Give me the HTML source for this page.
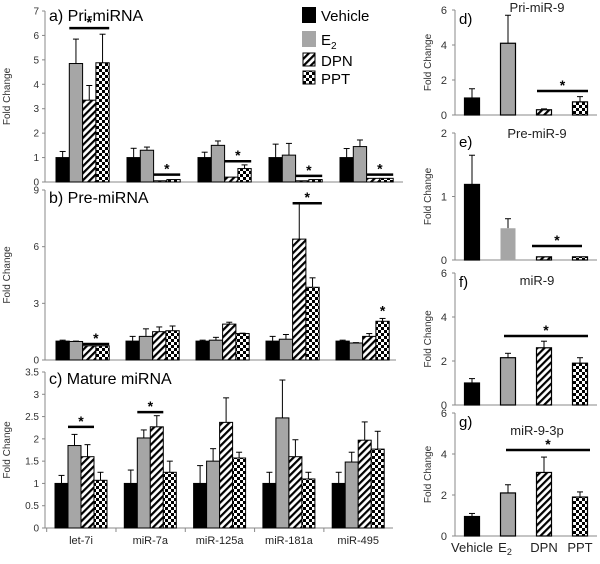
<!DOCTYPE html>
<html><head><meta charset="utf-8"><style>
html,body{margin:0;padding:0;background:#fff;}
svg{display:block;font-family:"Liberation Sans",Arial,sans-serif;}
</style></head><body>
<svg id="fig" width="600" height="564" viewBox="0 0 600 564">
<defs>
<pattern id="hatch" patternUnits="userSpaceOnUse" width="5" height="5" patternTransform="rotate(45)">
<rect width="5" height="5" fill="#fff"/><rect width="2.2" height="5" fill="#000"/>
</pattern>
<pattern id="check" patternUnits="userSpaceOnUse" width="6" height="6">
<rect width="6" height="6" fill="#fff"/><rect width="3" height="3" fill="#000"/><rect x="3" y="3" width="3" height="3" fill="#000"/>
</pattern>
</defs>
<g id="legend">
<rect x="302" y="7" width="14" height="16" fill="#000"/>
<text x="321" y="21" font-size="15">Vehicle</text>
<rect x="302" y="31" width="14" height="16" fill="#a6a6a6"/>
<text x="321" y="45" font-size="15">E<tspan font-size="10" dy="4">2</tspan></text>
<rect x="303" y="53" width="12" height="13" fill="url(#hatch)" stroke="#000"/>
<text x="321" y="66" font-size="15">DPN</text>
<rect x="303" y="71" width="12" height="13" fill="url(#check)" stroke="#000"/>
<text x="321" y="84" font-size="15">PPT</text>
</g>
</svg>
<script>
// ---- data ----
const groups = ["let-7i","miR-7a","miR-125a","miR-181a","miR-495"];
const treatments = ["Vehicle","E2","DPN","PPT"];
const priVals = [[1.0,4.85,3.35,4.88],[1.0,1.3,0.05,0.1],[1.0,1.5,0.2,0.55],[1.0,1.1,0.05,0.1],[1.0,1.45,0.15,0.15]];
const priErr  = [[1.25,5.85,3.95,6.05],[1.38,1.43,0,0],[1.22,1.68,0,0.7],[1.55,1.58,0,0],[1.37,1.72,0,0]];
const preVals = [[1.0,0.98,0.75,0.75],[1.0,1.25,1.5,1.55],[1.0,1.05,1.9,1.4],[1.0,1.1,6.4,3.85],[1.0,0.9,1.25,2.05]];
const preErr  = [[1.05,1.0,0,0],[1.25,1.65,1.75,1.8],[1.05,1.2,2.0,1.42],[1.25,1.35,8.3,4.35],[1.05,0.92,1.4,2.2]];
const matVals = [[1.0,1.85,1.6,1.07],[1.0,2.02,2.27,1.25],[1.0,1.5,2.37,1.57],[1.0,2.47,1.6,1.1],[1.0,1.48,1.97,1.77]];
const matErr  = [[1.18,2.1,1.87,1.25],[1.3,2.2,2.52,1.5],[1.4,1.78,2.92,1.7],[1.25,3.32,1.98,1.25],[1.25,1.7,2.38,2.17]];
const priTicks = [0,1,2,3,4,5,6,7];
const preTicks = [0,3,6,9];
const matTicks = [0,0.5,1,1.5,2,2.5,3,3.5];
const mir9Pri = [0.97,4.1,0.3,0.75];  const mir9PriErr = [1.5,5.7,0.35,1.05];
const mir9Pre = [1.19,0.5,0.05,0.05]; const mir9PreErr = [1.65,0.65,0,0];
const mir9Mat = [1.0,2.15,2.6,1.9];   const mir9MatErr = [1.2,2.35,2.9,2.15];
const mir93p  = [0.95,2.1,3.1,1.9];   const mir93pErr = [1.1,2.5,3.85,2.15];
const dTicks=[0,2,4,6], eTicks=[0,1,2], fTicks=[0,2,4,6], gTicks=[0,2,4,6];

const NS="http://www.w3.org/2000/svg";
const svg=document.getElementById('fig');
const fills=["#000","#a6a6a6","url(#hatch)","url(#check)"];
function mk(tag,attrs,parent){const e=document.createElementNS(NS,tag);for(const k in attrs)e.setAttribute(k,attrs[k]);(parent||svg).appendChild(e);return e;}

function leftPanel(cfg){
  const g=mk('g',{});
  
  
  const y=v=>cfg.y0-(v/cfg.max)*(cfg.y0-cfg.yTop);
  const ax=mk('line',{x1:cfg.ax,y1:cfg.yTop,x2:cfg.ax,y2:cfg.y0,stroke:'#888','stroke-width':1},g);
  
  
  const xa=mk('line',{x1:cfg.ax,y1:cfg.y0,x2:cfg.axEnd,y2:cfg.y0,stroke:'#888','stroke-width':1},g);
  
  
  cfg.ticks.forEach(t=>{
    mk('line',{x1:cfg.ax-3,y1:y(t),x2:cfg.ax,y2:y(t),stroke:'#888'},g);
    const tx=mk('text',{x:cfg.ax-6,y:y(t)+3.5,'font-size':10,'text-anchor':'end',fill:'#333'},g);
    tx.textContent=t;
    
    
  });
  const fc=mk('text',{x:0,y:0,'font-size':10,'text-anchor':'middle',fill:'#333',transform:`translate(${cfg.fcX},${(cfg.y0+cfg.yTop)/2}) rotate(-90)`},g);
  fc.textContent='Fold Change';
  
  
  const tt=mk('text',{x:cfg.ax+4,y:cfg.yTop+cfg.titleOff,'font-size':16},g);
  tt.textContent=cfg.title;
  
  
  cfg.vals.forEach((row,gi)=>{
    const gx=cfg.g0+gi*cfg.gs;
    row.forEach((v,ti)=>{
      const bx=gx+ti*cfg.bw;
      const e=cfg.err[gi][ti];
      if(e>v){
        const el=mk('line',{x1:bx+cfg.bw/2,y1:y(v),x2:bx+cfg.bw/2,y2:y(e),stroke:'#000','stroke-width':1},g);
        
        
        mk('line',{x1:bx+cfg.bw/2-3,y1:y(e),x2:bx+cfg.bw/2+3,y2:y(e),stroke:'#000'},g);
      }
      const r=mk('rect',{x:bx,y:y(v),width:cfg.bw,height:Math.max(0.5,cfg.y0-y(v)),fill:fills[ti],stroke:'#000','stroke-width':1},g);
      
      
    });
  });
  (cfg.stars||[]).forEach(s=>{
    const gx=cfg.g0+s[0]*cfg.gs;
    const x1=gx+s[1]*cfg.bw, x2=gx+s[2]*cfg.bw;
    if(s[4]){const ln=mk('line',{x1:x1,y1:y(s[3]),x2:x2,y2:y(s[3]),stroke:'#000','stroke-width':2.5},g);
      
      }
    const st=mk('text',{x:(x1+x2)/2,y:y(s[3])-1,'font-size':14,'text-anchor':'middle','font-weight':'bold'},g);
    st.textContent='*';
    
    
  });
  if(cfg.xlabels){
    groups.forEach((n,gi)=>{
      const t=mk('text',{x:cfg.g0+gi*cfg.gs+2*cfg.bw,y:cfg.y0+16,'font-size':11,'text-anchor':'middle',fill:'#222'},g);
      t.textContent=n;
      
      
      mk('line',{x1:cfg.g0+gi*cfg.gs-cfg.gs*0.12,y1:cfg.y0,x2:cfg.g0+gi*cfg.gs-cfg.gs*0.12,y2:cfg.y0+4,stroke:'#888'},g);
    });
  }
}
leftPanel({name:'panel-a-pri-mirna',title:'a) Pri-miRNA',titleOff:10,vals:priVals,err:priErr,ticks:priTicks,max:7,y0:182,yTop:11,ax:45,axEnd:403,fcX:10,g0:56,gs:71,bw:13.3,
  stars:[[0,1,4,6.3,1],[1,2,4,0.3,1],[2,2,4,0.85,1],[3,2,4,0.25,1],[4,2,4,0.3,1]]});
leftPanel({name:'panel-b-pre-mirna',title:'b) Pre-miRNA',titleOff:13,vals:preVals,err:preErr,ticks:preTicks,max:9,y0:360,yTop:190,ax:45,axEnd:396,fcX:10,g0:56,gs:70,bw:13.3,
  stars:[[0,2,4,0.85,1],[3,2,4.2,8.3,1],[4,3,4,2.3,0]]});
leftPanel({name:'panel-c-mature-mirna',title:'c) Mature miRNA',titleOff:12,vals:matVals,err:matErr,ticks:matTicks,max:3.5,y0:528,yTop:372,ax:45,axEnd:393,fcX:10,g0:55,gs:69.3,bw:13,xlabels:true,
  stars:[[0,1,3,2.27,1],[1,1,3,2.6,1]]});

function rightPanel(cfg){
  const g=mk('g',{});
  
  
  const y=v=>cfg.y0-(v/cfg.max)*(cfg.y0-cfg.yTop);
  const ax=mk('line',{x1:455,y1:cfg.yTop,x2:455,y2:cfg.y0,stroke:'#888'},g);
  
  
  const xa=mk('line',{x1:455,y1:cfg.y0,x2:597,y2:cfg.y0,stroke:'#888'},g);
  
  
  cfg.ticks.forEach(t=>{
    mk('line',{x1:452,y1:y(t),x2:455,y2:y(t),stroke:'#888'},g);
    const tx=mk('text',{x:447,y:y(t)+4,'font-size':11,'text-anchor':'end',fill:'#333'},g);
    tx.textContent=t;
    
    
  });
  const fc=mk('text',{x:0,y:0,'font-size':10,'text-anchor':'middle',fill:'#333',transform:`translate(431,${(cfg.y0+cfg.yTop)/2}) rotate(-90)`},g);
  fc.textContent='Fold Change';
  
  
  const lt=mk('text',{x:459,y:cfg.yTop+14,'font-size':15},g);
  lt.textContent=cfg.letter;
  
  
  const tt=mk('text',{x:537,y:cfg.titleY,'font-size':13,'text-anchor':'middle',fill:'#222'},g);
  tt.textContent=cfg.title;
  
  
  const cx=[472,508,544,580];
  cfg.vals.forEach((v,i)=>{
    const e=cfg.err[i];
    if(e>v){
      const el=mk('line',{x1:cx[i],y1:y(v),x2:cx[i],y2:y(e),stroke:'#000'},g);
      
      
      mk('line',{x1:cx[i]-3,y1:y(e),x2:cx[i]+3,y2:y(e),stroke:'#000'},g);
    }
    const r=mk('rect',{x:cx[i]-7.5,y:y(v),width:15,height:Math.max(0.5,cfg.y0-y(v)),fill:fills[i],stroke:i==1&&cfg.noE2Stroke?'none':'#000','stroke-width':1.2},g);
    
    
  });
  const ln=mk('line',{x1:cfg.star[0],y1:cfg.star[2],x2:cfg.star[1],y2:cfg.star[2],stroke:'#000','stroke-width':2.5},g);
  
  
  const st=mk('text',{x:(cfg.star[0]+cfg.star[1])/2,y:cfg.star[2]-1,'font-size':14,'text-anchor':'middle','font-weight':'bold'},g);
  st.textContent='*';
  
  
  if(cfg.xlabels){
    ["Vehicle","E","DPN","PPT"].forEach((n,i)=>{
      const t=mk('text',{x:cx[i]-(i==1?3:0),y:552,'font-size':13,'text-anchor':'middle',fill:'#222'},g);
      t.textContent=n;
      if(i==1){const s=mk('tspan',{'font-size':9,dy:3},t);s.textContent='2';}
      
      
    });
  }
}
rightPanel({name:'panel-d-pri-mir-9',letter:'d)',title:'Pri-miR-9',titleY:12,vals:mir9Pri,err:mir9PriErr,ticks:dTicks,max:6,y0:115,yTop:10,star:[537,588,91]});
rightPanel({name:'panel-e-pre-mir-9',letter:'e)',title:'Pre-miR-9',titleY:138,vals:mir9Pre,err:mir9PreErr,ticks:eTicks,max:2,y0:260,yTop:133,star:[532,582,246],noE2Stroke:true});
rightPanel({name:'panel-f-mir-9',letter:'f)',title:'miR-9',titleY:285,vals:mir9Mat,err:mir9MatErr,ticks:fTicks,max:6,y0:405,yTop:273,star:[504,588,336]});
rightPanel({name:'panel-g-mir-9-3p',letter:'g)',title:'miR-9-3p',titleY:435,vals:mir93p,err:mir93pErr,ticks:gTicks,max:6,y0:536,yTop:413,star:[506,590,450],xlabels:true});
</script>
</body></html>
